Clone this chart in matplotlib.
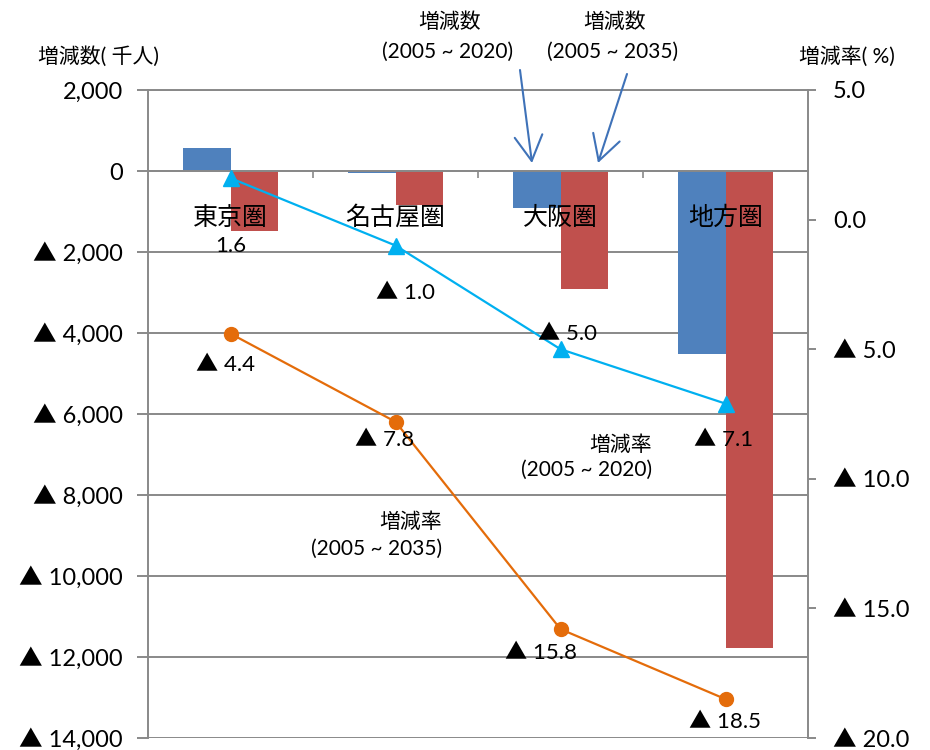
import numpy as np
import matplotlib.pyplot as plt
from matplotlib.patches import FancyArrowPatch
from matplotlib.ticker import FuncFormatter

plt.rcParams['font.family'] = ['Lato', 'Noto Sans CJK JP', 'DejaVu Sans']

# data
regions = ['東京圏', '名古屋圏', '大阪圏', '地方圏']
change_2020 = [570, -60, -910, -4520]        # 増減数 2005~2020 (千人)
change_2035 = [-1480, -840, -2910, -11780]   # 増減数 2005~2035 (千人)
rate_2020 = [1.6, -1.0, -5.0, -7.1]          # 増減率 2005~2020 (%)
rate_2035 = [-4.4, -7.8, -15.8, -18.5]       # 増減率 2005~2035 (%)

left_ticks = list(range(-14000, 2001, 2000))
right_ticks = [-20, -15, -10, -5, 0, 5]

blue = '#4F81BD'
red = '#C0504D'
cyan = '#00B0F0'
orange = '#E46C0A'
gray = '#898989'


def left_fmt(v, pos):
    v = int(round(v))
    if v < 0:
        return '▲ {:,}'.format(-v)
    return '{:,}'.format(v)


def right_fmt(v, pos):
    if v < 0:
        return '▲ {:.1f}'.format(-v)
    return '{:.1f}'.format(v)


def lab(v):
    if v < 0:
        return '▲ {:.1f}'.format(-v)
    return '{:.1f}'.format(v)


fig = plt.figure(figsize=(9.3, 7.5), dpi=100)
ax = fig.add_axes([148 / 930, 12 / 750, 660 / 930, 648 / 750])

x = np.arange(len(regions))
w = 0.285
ax.bar(x - w / 2, change_2020, w, color=blue, zorder=2)
ax.bar(x + w / 2, change_2035, w, color=red, zorder=2)

ax.set_xlim(-0.5, 3.5)
ax.set_ylim(-14000, 2000)
ax.set_yticks(left_ticks)
ax.yaxis.set_major_formatter(FuncFormatter(left_fmt))
ax.yaxis.grid(True, color=gray, lw=1.4)
ax.set_axisbelow(True)

ax.spines['bottom'].set_position(('data', 0))
ax.spines['bottom'].set_zorder(3)
for s in ['bottom', 'left', 'top']:
    ax.spines[s].set_color(gray)
    ax.spines[s].set_linewidth(1.4)
ax.spines['right'].set_visible(False)
ax.set_xticks([0.5, 1.5, 2.5])
ax.set_xticklabels([])
ax.tick_params(axis='x', direction='out', length=5, width=1.2, color=gray)
ax.tick_params(axis='y', direction='out', length=8, width=1.4, color=gray,
               labelsize=17, pad=10)

for i, name in enumerate(regions):
    ax.text(i, -1160, name, ha='center', va='center', fontsize=18,
            family=['Noto Sans CJK JP', 'DejaVu Sans'], zorder=5)

# rates on right axis
ax2 = ax.twinx()
ax2.set_ylim(-20, 5)
ax2.set_yticks(right_ticks)
ax2.yaxis.set_major_formatter(FuncFormatter(right_fmt))
for s in ['bottom', 'left', 'top']:
    ax2.spines[s].set_visible(False)
ax2.spines['right'].set_color(gray)
ax2.spines['right'].set_linewidth(1.4)
ax2.tick_params(axis='y', direction='out', length=6, width=1.4, color=gray,
                labelsize=17, pad=12)

ax2.plot(x, rate_2020, color=cyan, lw=1.6, marker='^', ms=11)
ax2.plot(x, rate_2035, color=orange, lw=1.6, marker='o', ms=10)

off_2020 = [(0, -68), (10, -47), (7, 15), (-2, -36)]
off_2035 = [(-5, -31), (-11, -18), (-20, -24), (-1, -23)]
for i in range(len(regions)):
    ax2.annotate(lab(rate_2020[i]), (x[i], rate_2020[i]), xytext=off_2020[i],
                 textcoords='offset pixels', ha='center', va='center', fontsize=16)
    ax2.annotate(lab(rate_2035[i]), (x[i], rate_2035[i]), xytext=off_2035[i],
                 textcoords='offset pixels', ha='center', va='center', fontsize=16)

# axis titles
fig.text(38 / 930, 1 - 57 / 750, '増減数( 千人)', ha='left', va='center', fontsize=15)
fig.text(895 / 930, 1 - 57 / 750, '増減率( %)', ha='right', va='center', fontsize=15)

# series notes
fig.text(450 / 930, 1 - 22 / 750, '増減数', ha='center', va='center', fontsize=15)
fig.text(448 / 930, 1 - 52 / 750, '(2005 ~ 2020)', ha='center', va='center', fontsize=15)
fig.text(615 / 930, 1 - 22 / 750, '増減数', ha='center', va='center', fontsize=15)
fig.text(613 / 930, 1 - 52 / 750, '(2005 ~ 2035)', ha='center', va='center', fontsize=15)

fig.text(652 / 930, 1 - 445 / 750, '増減率', ha='right', va='center', fontsize=15)
fig.text(652 / 930, 1 - 470 / 750, '(2005 ~ 2020)', ha='right', va='center', fontsize=15)
fig.text(442 / 930, 1 - 522 / 750, '増減率', ha='right', va='center', fontsize=15)
fig.text(442 / 930, 1 - 549 / 750, '(2005 ~ 2035)', ha='right', va='center', fontsize=15)

arrow = dict(arrowstyle='->,head_length=0.9,head_width=0.5', color='#3F72B8', lw=1.5,
             mutation_scale=20, shrinkA=0, shrinkB=0)
fig.add_artist(FancyArrowPatch((520 / 930, 1 - 70 / 750), (532 / 930, 1 - 163 / 750),
                               transform=fig.transFigure, **arrow))
fig.add_artist(FancyArrowPatch((627 / 930, 1 - 74 / 750), (598 / 930, 1 - 163 / 750),
                               transform=fig.transFigure, **arrow))

fig.savefig('out.png', dpi=100, facecolor='white')
